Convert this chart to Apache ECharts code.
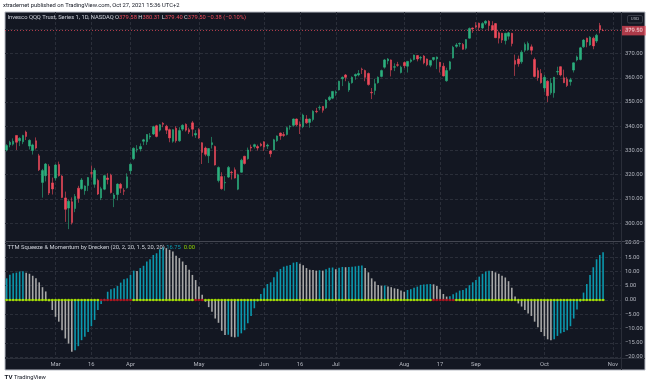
<!DOCTYPE html>
<html><head><meta charset="utf-8">
<script src="https://cdn.jsdelivr.net/npm/echarts@6/dist/echarts.min.js"></script>
<style>html,body{margin:0;padding:0;background:#fff}#c{width:650px;height:386px}</style>
</head><body><div id="c"></div>
<script>
// ---------- DATA ----------
const dates = [
'2021-02-05','2021-02-08','2021-02-09','2021-02-10','2021-02-11','2021-02-12','2021-02-16','2021-02-17','2021-02-18','2021-02-19',
'2021-02-22','2021-02-23','2021-02-24','2021-02-25','2021-02-26','2021-03-01','2021-03-02','2021-03-03','2021-03-04','2021-03-05',
'2021-03-08','2021-03-09','2021-03-10','2021-03-11','2021-03-12','2021-03-15','2021-03-16','2021-03-17','2021-03-18','2021-03-19',
'2021-03-22','2021-03-23','2021-03-24','2021-03-25','2021-03-26','2021-03-29','2021-03-30','2021-03-31','2021-04-01','2021-04-05',
'2021-04-06','2021-04-07','2021-04-08','2021-04-09','2021-04-12','2021-04-13','2021-04-14','2021-04-15','2021-04-16','2021-04-19',
'2021-04-20','2021-04-21','2021-04-22','2021-04-23','2021-04-26','2021-04-27','2021-04-28','2021-04-29','2021-04-30','2021-05-03',
'2021-05-04','2021-05-05','2021-05-06','2021-05-07','2021-05-10','2021-05-11','2021-05-12','2021-05-13','2021-05-14','2021-05-17',
'2021-05-18','2021-05-19','2021-05-20','2021-05-21','2021-05-24','2021-05-25','2021-05-26','2021-05-27','2021-05-28','2021-06-01',
'2021-06-02','2021-06-03','2021-06-04','2021-06-07','2021-06-08','2021-06-09','2021-06-10','2021-06-11','2021-06-14','2021-06-15',
'2021-06-16','2021-06-17','2021-06-18','2021-06-21','2021-06-22','2021-06-23','2021-06-24','2021-06-25','2021-06-28','2021-06-29',
'2021-06-30','2021-07-01','2021-07-02','2021-07-06','2021-07-07','2021-07-08','2021-07-09','2021-07-12','2021-07-13','2021-07-14',
'2021-07-15','2021-07-16','2021-07-19','2021-07-20','2021-07-21','2021-07-22','2021-07-23','2021-07-26','2021-07-27','2021-07-28',
'2021-07-29','2021-07-30','2021-08-02','2021-08-03','2021-08-04','2021-08-05','2021-08-06','2021-08-09','2021-08-10','2021-08-11',
'2021-08-12','2021-08-13','2021-08-16','2021-08-17','2021-08-18','2021-08-19','2021-08-20','2021-08-23','2021-08-24','2021-08-25',
'2021-08-26','2021-08-27','2021-08-30','2021-08-31','2021-09-01','2021-09-02','2021-09-03','2021-09-07','2021-09-08','2021-09-09',
'2021-09-10','2021-09-13','2021-09-14','2021-09-15','2021-09-16','2021-09-17','2021-09-20','2021-09-21','2021-09-22','2021-09-23',
'2021-09-24','2021-09-27','2021-09-28','2021-09-29','2021-09-30','2021-10-01','2021-10-04','2021-10-05','2021-10-06','2021-10-07',
'2021-10-08','2021-10-11','2021-10-12','2021-10-13','2021-10-14','2021-10-15','2021-10-18','2021-10-19','2021-10-20','2021-10-21',
'2021-10-22','2021-10-25','2021-10-26','2021-10-27'];
const futureDates = ['2021-10-28','2021-10-29','2021-11-01','2021-11-02','2021-11-03'];

const open = [
330.2,332.4,332.6,336.2,334.0,333.6,337.6,331.8,330.0,334.0,
327.8,316.8,319.6,323.4,316.6,318.6,324.2,319.4,310.4,306.2,
308.8,306.0,314.4,314.2,313.4,315.5,320.8,316.0,317.6,310.4,
314.0,318.6,319.8,310.2,311.8,316.0,313.4,314.6,321.6,326.6,
330.4,330.6,333.8,333.6,335.6,336.8,340.2,338.4,341.2,340.0,
338.6,333.8,339.2,334.0,338.8,340.8,338.6,341.4,336.4,338.6,
333.2,331.0,327.8,332.4,331.6,317.6,319.2,316.6,319.0,321.0,
322.0,314.0,321.0,327.6,326.6,331.4,331.6,331.6,332.6,333.6,
331.8,329.8,330.2,334.0,337.2,336.6,336.6,339.8,340.4,343.0,
340.8,339.8,343.0,341.6,342.8,346.2,347.6,348.2,347.6,351.0,
351.6,353.8,355.0,359.6,361.2,355.0,358.0,360.8,361.2,363.6,
363.0,361.8,354.0,354.8,358.0,360.6,364.4,367.0,367.4,364.4,
365.4,362.2,366.3,364.8,366.8,367.6,369.2,368.2,369.0,367.8,
365.2,367.6,367.8,366.4,364.8,358.8,363.6,368.2,373.0,374.0,
373.8,372.2,376.4,380.6,381.6,382.6,380.6,382.6,383.4,381.6,
382.4,378.6,378.4,375.4,377.2,378.4,367.2,367.8,366.6,371.4,
371.6,372.8,367.6,363.0,361.8,355.8,358.6,353.8,353.8,362.4,
364.6,360.0,359.4,358.4,363.2,367.4,367.6,372.8,376.4,373.6,
376.4,375.2,381.6,379.58];
const close = [
332.0,333.4,333.8,333.4,335.0,336.2,335.8,334.2,332.3,331.0,
322.0,321.7,324.4,312.4,314.1,324.0,319.6,310.6,305.7,309.0,
300.2,311.0,310.2,317.8,315.3,318.8,320.6,321.8,312.0,314.2,
319.6,318.0,312.6,311.6,316.1,314.4,313.2,319.1,324.3,330.9,
330.6,331.6,334.4,336.6,336.0,339.8,335.8,340.6,340.8,338.4,
335.2,338.6,334.0,338.2,340.4,338.4,337.6,338.8,337.0,335.2,
329.2,328.4,330.8,333.2,324.0,323.0,314.2,316.8,323.0,320.8,
318.6,320.0,326.0,324.6,330.2,331.0,332.4,331.0,332.0,331.4,
332.2,328.6,334.4,336.0,336.0,336.2,339.4,340.0,343.0,340.6,
340.0,344.6,341.4,343.0,346.2,346.0,347.8,346.6,350.8,352.0,
354.4,354.2,358.6,360.2,360.2,357.8,360.2,361.4,361.8,363.4,
360.2,357.2,353.8,357.6,360.2,363.0,367.4,367.8,363.2,364.6,
365.2,364.4,365.0,366.8,367.4,369.4,367.8,368.4,366.2,365.4,
367.2,368.4,368.6,364.6,360.8,363.0,366.6,372.6,373.6,374.2,
371.8,375.8,380.4,380.2,381.0,380.8,382.4,383.4,381.6,379.8,
376.6,376.4,375.6,378.4,378.6,374.2,365.6,365.8,370.6,373.8,
374.2,371.4,360.6,360.0,358.0,360.2,352.6,357.8,360.2,362.6,
361.2,358.0,356.8,359.2,366.2,368.6,372.4,375.6,374.8,376.8,
373.2,377.6,379.88,379.50];
const low = [
329.6,331.3,332.0,330.2,331.8,332.6,334.3,330.4,328.3,330.4,
321.5,310.5,317.2,311.6,311.8,317.5,319.2,310.3,300.5,297.5,
299.4,304.5,308.4,313.8,311.7,313.2,318.8,314.6,311.6,309.5,
313.6,316.0,312.2,306.6,309.4,312.4,311.6,314.2,320.2,326.0,
329.2,329.6,332.2,332.3,334.6,336.4,335.4,337.8,339.6,336.8,
333.4,333.2,333.2,333.6,338.0,337.8,336.8,335.8,335.2,334.8,
324.4,327.6,324.8,330.8,323.8,316.8,313.8,313.4,318.6,318.0,
318.4,313.6,320.8,324.2,326.2,329.6,330.8,330.0,331.6,329.8,
330.6,327.2,330.0,333.6,334.4,335.6,336.2,338.6,339.8,340.0,
336.8,339.2,341.0,339.4,342.0,345.4,346.6,345.6,347.2,350.4,
351.2,352.6,354.8,356.6,358.6,354.2,357.6,359.2,360.6,361.6,
358.6,356.8,351.2,353.0,357.6,360.2,363.8,365.6,360.6,362.8,
364.6,361.8,364.0,362.2,366.2,367.2,366.8,367.2,365.6,364.8,
364.4,367.0,363.6,362.2,360.6,358.4,363.0,368.0,372.4,372.8,
371.6,371.6,376.2,378.6,380.4,379.4,380.2,381.8,379.6,379.6,
376.4,374.2,374.4,373.8,375.8,373.0,360.8,364.6,365.8,370.6,
371.2,369.6,360.2,358.8,357.6,354.2,350.0,353.0,351.8,361.2,
360.6,357.8,356.2,356.8,362.2,366.8,367.2,372.4,372.6,373.2,
371.8,374.4,378.4,379.40];
const high = [
332.6,334.0,335.0,336.3,335.5,336.5,338.2,334.6,332.8,335.4,
328.6,322.4,324.8,324.3,318.8,324.3,325.4,319.8,313.0,309.8,
310.6,312.0,315.4,318.6,315.6,319.0,323.8,322.8,318.3,315.0,
320.0,320.6,320.4,312.4,316.4,316.6,314.4,320.6,324.6,331.3,
332.2,332.9,334.8,336.8,337.2,340.2,340.6,340.9,341.7,340.6,
339.0,338.8,340.0,339.6,340.8,341.2,339.4,342.2,338.4,339.2,
333.4,331.6,331.0,335.6,332.0,323.4,321.0,319.4,323.6,321.6,
323.0,320.4,326.6,327.8,331.2,332.4,332.8,332.4,333.2,333.8,
332.8,330.2,334.8,336.2,337.4,337.6,339.8,340.4,343.2,343.2,
342.0,345.2,344.6,343.2,346.6,347.6,348.6,348.4,351.2,352.6,
354.6,354.8,358.8,360.6,361.6,358.6,360.6,361.8,363.2,364.2,
363.4,362.2,355.8,359.6,360.6,363.4,367.8,368.2,367.6,366.0,
366.6,365.0,366.8,367.0,368.0,369.6,369.4,369.0,369.4,368.0,
367.4,368.6,368.8,366.6,366.2,364.2,367.0,373.2,374.4,374.6,
374.4,376.0,380.8,380.8,383.0,382.8,383.0,383.8,383.8,383.4,
382.6,379.2,378.6,378.6,379.0,378.6,369.6,369.2,371.4,374.6,
375.0,373.8,368.4,364.2,363.6,361.2,359.0,359.8,360.4,364.6,
364.8,363.4,360.4,360.0,366.4,369.2,372.8,376.0,376.6,377.2,
377.0,378.2,382.7,380.31];

const momentum = [
7.6,8.9,9.4,9.6,10.0,10.1,9.6,9.2,8.5,7.6,
6.2,4.5,3.0,-0.4,-3.5,-5.9,-7.6,-10.6,-13.5,-15.3,
-18.2,-17.6,-16.2,-14.1,-12.9,-11.2,-9.2,-7.0,-3.5,-1.4,
0.4,2.9,3.8,4.1,4.9,6.1,7.3,7.6,8.8,10.3,
10.2,11.2,12.0,13.5,14.3,15.8,16.4,17.8,18.5,18.2,
17.6,17.0,15.5,14.7,13.5,12.3,10.6,8.8,7.0,4.7,
1.8,-0.6,-2.5,-4.1,-6.5,-8.0,-10.8,-12.3,-12.2,-12.9,
-13.1,-12.9,-11.7,-10.6,-8.2,-5.6,-2.9,-0.5,2.1,4.1,
5.6,6.2,8.0,9.9,10.9,11.7,12.0,12.3,13.1,13.3,
12.7,12.2,11.2,10.6,10.5,10.3,10.45,10.3,10.8,11.3,
11.4,10.8,11.3,11.6,11.5,11.55,11.7,11.8,12.0,12.1,
11.2,9.7,7.6,6.5,5.3,5.0,5.1,4.7,4.5,4.1,
3.9,3.3,2.9,3.5,3.8,4.3,4.7,5.3,5.4,5.5,
5.6,5.5,4.9,3.8,2.1,1.2,1.3,2.0,2.6,3.3,
3.5,4.1,5.2,6.2,7.0,8.2,9.2,10.0,10.3,10.2,
9.7,9.2,8.5,7.9,6.6,4.3,1.2,-1.2,-2.3,-3.5,
-4.7,-5.6,-7.6,-9.6,-11.2,-12.7,-13.8,-14.1,-13.8,-12.6,
-11.7,-11.2,-10.6,-9.2,-6.5,-3.3,-0.6,2.6,5.6,8.8,
11.5,14.3,15.8,16.75];
const squeezeOnIdx = [29,30,31,32,33,34,35,36,37,38,58,59,60,131,132,133,134,135,136,137];

const tickDates = ['2021-03-01','2021-03-16','2021-04-01','2021-05-03','2021-06-01','2021-06-16','2021-07-01','2021-08-02','2021-08-17','2021-09-01','2021-10-01','2021-11-01'];
const tickTexts = ['Mar','16','Apr','May','Jun','16','Jul','Aug','17','Sep','Oct','Nov'];
const priceTicks = [300,310,320,330,340,350,360,370,380];
const momTicks = [-20,-15,-10,-5,0,5,10,15,20];
const lastPrice = 379.50;

// ---------- STYLE ----------
const BG = '#131722', UP = '#2bb07e', DOWN = '#ef4a5a', TEAL = '#0b98ad', GREY = '#a8a8a8';
const LIME = '#b8f000', SQRED = '#c0141e', AX = '#b2b5be', FONT = 'Roboto';
const FS = 5.8;
const allDates = dates.concat(futureDates);
const tickLabelOf = {};
tickDates.forEach((d, i) => { tickLabelOf[d] = tickTexts[i]; });
const isTick = (idx, val) => tickLabelOf[val] !== undefined || tickLabelOf[allDates[idx]] !== undefined;
const candleData = dates.map((d, i) => [open[i], close[i], low[i], high[i]]);
const momBars = momentum.map((v, i) => ({ value: v, itemStyle: { color: (i === 0 || v > momentum[i - 1]) ? TEAL : GREY } }));
const sq = new Set(squeezeOnIdx);
const dotsLine = momentum.map((v, i) => ({ value: 0, itemStyle: { color: sq.has(i) ? '#8a1218' : '#86c400' } }));
const dots = momentum.map((v, i) => ({ value: 0, itemStyle: { color: sq.has(i) ? SQRED : LIME } }));
const fmtSigned = v => (v < 0 ? '\u2212' + Math.abs(v).toFixed(2) : v.toFixed(2));
const split = { show: true, lineStyle: { color: '#2a2e39', type: [3, 2], width: 1 } };
const rs = (color) => ({ color: color, fontSize: FS, fontFamily: FONT, fontWeight: 'normal' });

const chart = echarts.init(document.getElementById('c'), null, { renderer: 'canvas' });
chart.setOption({
  backgroundColor: '#ffffff',
  animation: false,
  textStyle: { fontFamily: FONT },
  title: [
    { left: 3, top: 2.5, padding: 0, text: 'xtradernet published on TradingView.com, Oct 27, 2021 15:36 UTC+2',
      textStyle: { color: '#131722', fontSize: FS, fontWeight: 'normal', fontFamily: FONT } },
    { left: 7.5, top: 14.5, padding: 0,
      text: '{n|Invesco QQQ Trust, Series 1, 1D, NASDAQ} {k|O}{v|379.58} {k|H}{v|380.31} {k|L}{v|379.40} {k|C}{v|379.50} {v|\u22120.38 (\u22120.10%)}',
      textStyle: { fontWeight: 'normal', fontSize: FS, rich: { n: rs('#d1d4dc'), k: rs('#d1d4dc'), v: rs(DOWN) } } },
    { left: 7.5, top: 245, padding: 0,
      text: '{n|TTM Squeeze & Momentum by Drecken (20, 2, 20, 1.5, 20, 20)} {t|16.75}  {g|0.00}',
      textStyle: { fontWeight: 'normal', fontSize: FS, rich: { n: rs('#d1d4dc'), t: rs(TEAL), g: rs('#8fd400') } } },
    { left: 14, top: 375, padding: 0, text: 'TradingView',
      textStyle: { color: '#131722', fontSize: FS, fontWeight: 'normal', fontFamily: FONT } },
    { left: 4.5, top: 374.5, padding: 0, text: 'TV',
      textStyle: { color: '#131722', fontSize: 6.2, fontWeight: 'bold', fontFamily: FONT } }
  ],
  graphic: [
    { type: 'rect', z: -100, shape: { x: 5, y: 12, width: 640, height: 358 }, style: { fill: BG, stroke: '#b8bbc4', lineWidth: 1 } },
    { type: 'line', z: 100, shape: { x1: 5, y1: 241.5, x2: 645, y2: 241.5 }, style: { stroke: '#434651', lineWidth: 1 } },
    { type: 'line', z: 100, shape: { x1: 5, y1: 358.5, x2: 645, y2: 358.5 }, style: { stroke: '#2a2e39', lineWidth: 1 } },
    { type: 'line', z: 100, shape: { x1: 621.5, y1: 12, x2: 621.5, y2: 370 }, style: { stroke: '#2a2e39', lineWidth: 1 } },
    { type: 'rect', z: 100, shape: { x: 627.5, y: 15.5, width: 15, height: 7.5, r: 1.5 }, style: { fill: BG, stroke: '#434651', lineWidth: 0.8 } },
    { type: 'text', z: 101, x: 635, y: 19.3, style: { text: 'USD', fill: AX, fontSize: 4.4, fontFamily: FONT, align: 'center', verticalAlign: 'middle', textAlign: 'center', textVerticalAlign: 'middle' } }
  ],
  grid: [
    { left: 5, right: 29, top: 12, height: 229 },
    { left: 5, right: 29, top: 242, height: 116 }
  ],
  xAxis: [
    { type: 'category', gridIndex: 0, data: allDates, boundaryGap: true,
      axisLine: { show: false }, axisTick: { show: false }, axisLabel: { show: false },
      splitLine: Object.assign({}, split, { interval: isTick, alignWithLabel: true }) },
    { type: 'category', gridIndex: 1, data: allDates, boundaryGap: true,
      axisLine: { show: false }, axisTick: { show: false },
      axisLabel: { show: true, interval: isTick, formatter: v => tickLabelOf[v] || '', color: AX, fontSize: FS, fontFamily: FONT, margin: 4 },
      splitLine: Object.assign({}, split, { interval: isTick, alignWithLabel: true }) }
  ],
  yAxis: [
    { type: 'value', gridIndex: 0, position: 'right', min: 292.6, max: 387.2, scale: true,
      axisLine: { show: false }, axisTick: { show: false, customValues: priceTicks },
      axisLabel: { customValues: priceTicks, formatter: v => v.toFixed(2), color: AX, fontSize: FS, fontFamily: FONT, margin: 4 },
      splitLine: split },
    { type: 'value', gridIndex: 1, position: 'right', min: -20.35, max: 20.35,
      axisLine: { show: false }, axisTick: { show: false, customValues: momTicks },
      axisLabel: { customValues: momTicks, formatter: fmtSigned, color: AX, fontSize: FS, fontFamily: FONT, margin: 4 },
      splitLine: split }
  ],
  series: [
    { type: 'candlestick', xAxisIndex: 0, yAxisIndex: 0, data: candleData, barWidth: 2,
      itemStyle: { color: UP, color0: DOWN, borderColor: UP, borderColor0: DOWN, borderWidth: 0.6 },
      markLine: { silent: true, symbol: 'none', animation: false,
        data: [{ yAxis: lastPrice }],
        lineStyle: { color: DOWN, opacity: 0.7, type: [1, 2], width: 1 },
        label: { show: true, position: 'end', formatter: lastPrice.toFixed(2), color: '#ffffff', backgroundColor: DOWN,
          fontSize: FS, fontFamily: FONT, padding: [2, 3, 1.5, 3], distance: 1 } } },
    { type: 'bar', xAxisIndex: 1, yAxisIndex: 1, data: momBars, barWidth: 1.6 },
    { type: 'scatter', xAxisIndex: 1, yAxisIndex: 1, data: dotsLine, symbol: 'rect', symbolSize: [3.4, 1.4], z: 3 },
    { type: 'scatter', xAxisIndex: 1, yAxisIndex: 1, data: dots, symbol: 'circle', symbolSize: 2.4, z: 4 }
  ]
});
</script></body></html>
